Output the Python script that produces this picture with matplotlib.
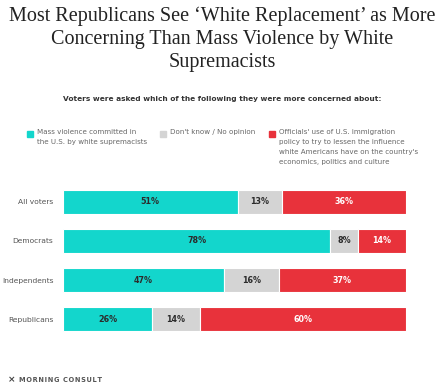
import numpy as np
import matplotlib.pyplot as plt

# Dados da pesquisa (percentuais)
groups = ['All voters', 'Democrats', 'Independents', 'Republicans']
violence = [51, 78, 47, 26]
no_opinion = [13, 8, 16, 14]
immigration = [36, 14, 37, 60]

legend_labels = ['Mass violence committed in\nthe U.S. by white supremacists',
                 "Don't know / No opinion",
                 "Officials' use of U.S. immigration\npolicy to try to lessen the influence\n"
                 "white Americans have on the country's\neconomics, politics and culture"]

colors = ['#13d6cc', '#d4d4d4', '#e8323b']
text_colors = ['#2b2b2b', '#2b2b2b', 'white']

W, H = 444, 388
fig = plt.figure(figsize=(W / 100, H / 100), dpi=100)
fig.patch.set_facecolor('white')

# Título
fig.text(0.5, 1 - 7 / H,
         "Most Republicans See \u2018White Replacement\u2019 as More\n"
         "Concerning Than Mass Violence by White\nSupremacists",
         ha='center', va='top', fontsize=14.5, family='Liberation Serif',
         color='#222222', linespacing=1.28)

fig.text(0.5, 1 - 99 / H,
         'Voters were asked which of the following they were more concerned about:',
         ha='center', va='center', fontsize=5.3, fontweight='bold', color='#333333')

# Legenda
leg_x = [27, 160, 269]
for lx, lab, c in zip(leg_x, legend_labels, colors):
    fig.patches.append(plt.Rectangle((lx / W, 1 - 137 / H), 6 / W, 6 / H,
                                     transform=fig.transFigure, color=c))
    fig.text((lx + 10) / W, 1 - 129 / H, lab, ha='left', va='top',
             fontsize=5.1, color='#666666', linespacing=1.78)

# Barras
ax = fig.add_axes([63 / W, 1 - 341 / H, 342.5 / W, 161 / H])
y = np.arange(len(groups))
series = [violence, no_opinion, immigration]
left = np.zeros(len(groups))
for vals, c, tc in zip(series, colors, text_colors):
    vals = np.array(vals)
    ax.barh(y, vals, left=left, height=0.615, color=c, edgecolor='white',
            linewidth=0.8)
    for yi, l, v in zip(y, left, vals):
        ax.text(l + v / 2, yi, '%d%%' % v, ha='center', va='center',
                fontsize=5.8, fontweight='bold', color=tc)
    left += vals

ax.set_xlim(0, 100)
ax.set_ylim(3.564, -0.564)
ax.set_yticks(y)
ax.set_yticklabels(groups, fontsize=5.4, color='#555555')
ax.tick_params(axis='y', length=0, pad=7)
ax.set_xticks([])
for s in ax.spines.values():
    s.set_visible(False)

# Logo
fig.text(8 / W, 1 - 380 / H, '\u2a2f', ha='left', va='center', fontsize=6.5,
         color='#444444', fontweight='bold')
fig.text(19 / W, 1 - 380 / H, '\u200a'.join('MORNING CONSULT'), ha='left',
         va='center', fontsize=4.8, fontweight='bold', color='#555555')

fig.savefig('out.png', dpi=100)
